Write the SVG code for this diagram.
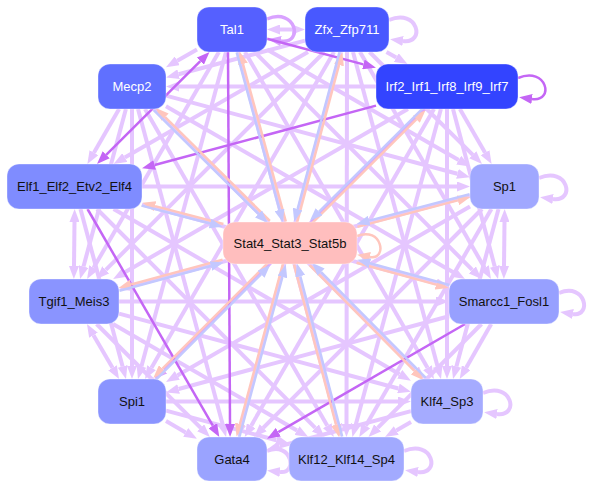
<svg xmlns="http://www.w3.org/2000/svg" width="591" height="489" viewBox="0 0 591 489">
<style>
.e{stroke:#e3c0ff;stroke-width:4;fill:none;opacity:0.9}
.d{stroke:#c466f5;stroke-width:2.5;fill:none}
.m{stroke:#d9a2ff;stroke-width:3.5;fill:none}
.p{stroke:#ffc6bd;stroke-width:2.5;fill:none}
.b{stroke:#c3c8ff;stroke-width:2.5;fill:none}
.n rect{rx:12;ry:12;stroke:rgba(255,255,255,0.35);stroke-width:1}
.n text{font-family:"Liberation Sans",Arial,sans-serif;font-size:13px;text-anchor:middle;dominant-baseline:central}
.w text{fill:#ffffff}
.k text{fill:#111111}
</style>
<defs>
<marker id="aL" markerUnits="userSpaceOnUse" viewBox="0 0 13 10" refX="0" refY="5" markerWidth="13" markerHeight="10" orient="auto-start-reverse"><path d="M0,0L13,5L0,10z" fill="#e3c0ff"/></marker>
<marker id="aD" markerUnits="userSpaceOnUse" viewBox="0 0 13 10" refX="0" refY="5" markerWidth="13" markerHeight="10" orient="auto-start-reverse"><path d="M0,0L13,5L0,10z" fill="#c466f5"/></marker>
<marker id="aM" markerUnits="userSpaceOnUse" viewBox="0 0 13 10" refX="0" refY="5" markerWidth="13" markerHeight="10" orient="auto-start-reverse"><path d="M0,0L13,5L0,10z" fill="#d9a2ff"/></marker>
<marker id="aP" markerUnits="userSpaceOnUse" viewBox="0 0 13 10" refX="0" refY="5" markerWidth="13" markerHeight="10" orient="auto-start-reverse"><path d="M0,0L13,5L0,10z" fill="#ffc6bd"/></marker>
<marker id="aB" markerUnits="userSpaceOnUse" viewBox="0 0 13 10" refX="0" refY="5" markerWidth="13" markerHeight="10" orient="auto-start-reverse"><path d="M0,0L13,5L0,10z" fill="#c3c8ff"/></marker>
</defs>
<rect width="591" height="489" fill="#ffffff"/>
<g id="edges">
<g class="e" marker-end="url(#aL)">
<path d="M280,29.5L292,29.5" marker-start="url(#aL)"/>
<path d="M197,49.5L177.3,60.7"/>
<path d="M267,49.6L458.7,160.1"/>
<path d="M218.9,52L93.6,267.8"/>
<path d="M254.5,52L472.3,269.8"/>
<path d="M226,52L141.4,366.4"/>
<path d="M245,52L427.5,367.7"/>
<path d="M238,52L337.2,424.4"/>
<path d="M386.5,52L396.2,57.6"/>
<path d="M305,40.6L178.6,74.2"/>
<path d="M308,52L124.8,157.5"/>
<path d="M369.5,52L472.8,154.8"/>
<path d="M324.4,52L105.8,269.8"/>
<path d="M360,52L484.5,267.7"/>
<path d="M334,52L151.5,367.7"/>
<path d="M353,52L437.6,366.4"/>
<path d="M341,52L241.3,424.4"/>
<path d="M347,52L346.5,424"/>
<path d="M376,86.5L179,86.5"/>
<path d="M459.9,109L485.1,152.7"/>
<path d="M407.9,109L124.4,272.5"/>
<path d="M453,109L494.7,266.4"/>
<path d="M447,109L447,366"/>
<path d="M434,109L251.2,425.7"/>
<path d="M440.9,109L355.8,424.4"/>
<path d="M119.1,109L93.9,152.7"/>
<path d="M166,95.6L457.4,173.8"/>
<path d="M125.9,109L83.5,266.5"/>
<path d="M166,106.2L453.7,272.5"/>
<path d="M132,109L132,366"/>
<path d="M154.5,109L415.3,369.8"/>
<path d="M138,109L222.7,424.4"/>
<path d="M145,109L327.3,425.7"/>
<path d="M142,186.5L457,186.5"/>
<path d="M74.5,222L74,266" marker-start="url(#aL)"/>
<path d="M142,204.6L436.4,283.4"/>
<path d="M80.5,209L122.6,366.4"/>
<path d="M113.6,209L399.7,374.2"/>
<path d="M97,209L315.3,427.8"/>
<path d="M470,195.7L131.6,286.1"/>
<path d="M504.5,222L504,266" marker-start="url(#aL)"/>
<path d="M470,206.4L177.3,375.4"/>
<path d="M498.5,209L456.4,366.4"/>
<path d="M482,209L263.2,427.8"/>
<path d="M491.4,209L365.8,425.8"/>
<path d="M119,301.5L436,301.5"/>
<path d="M93.5,335.2L112.5,367.8" marker-start="url(#aL)"/>
<path d="M119,313.6L398.4,388.5"/>
<path d="M96.6,324L200.7,427.8"/>
<path d="M113,324L297,430.5"/>
<path d="M449,316.3L178.6,389"/>
<path d="M491.2,324L466.2,367.7"/>
<path d="M481.5,324L377.7,427.8"/>
<path d="M166,401.5L398,401.5"/>
<path d="M166,421.1L185.7,432.4"/>
<path d="M166,410.6L276.4,440.2"/>
<path d="M411,411.1L279.6,446.2"/>
<path d="M411,422.1L396.3,430.5"/>
<path d="M389,20C418,8 426,44 403,41"/>
<path d="M539,178C568,166 576,202 553,199"/>
<path d="M559,293C586,282 592,317 573,314"/>
<path d="M483,393C512,381 520,417 497,414"/>
<path d="M404,451C433,439 441,475 418,472"/>
<path d="M267,451C292,441 298,474 280,472"/>
</g>
<g class="m" marker-end="url(#aM)">
<path d="M267,19C296,7 304,44 281,41"/>
<path d="M424.5,109L163.7,369.8"/>
</g>
<g class="d" marker-end="url(#aD)">
<path d="M267,38.8L363.4,64.4"/>
<path d="M200.3,61.2L106.2,154.8" marker-start="url(#aD)"/>
<path d="M228,52L230,424"/>
<path d="M376,105.6L154.6,165"/>
<path d="M87.5,209L212.8,425.7"/>
<path d="M465.1,324L278.3,432.2"/>
<path d="M518,78C547,66 555,102 532,99"/>
</g>
<g class="p" marker-end="url(#aP)">
<path d="M285.8,221.6L243,64.1"/>
<path d="M297.1,222.4L339,65"/>
<path d="M312.1,223.1L416.3,119.3"/>
<path d="M269.9,220.9L165.1,117.1"/>
<path d="M223.4,224L155,206.1"/>
<path d="M357.4,226.9L457.8,200.4"/>
<path d="M222.6,259.6L131.1,284.5"/>
<path d="M356.6,262.8L436.1,284.6"/>
<path d="M268,262.9L162.5,368.7"/>
<path d="M309.7,265.1L414.4,370.9"/>
<path d="M283,263.6L239.9,424"/>
<path d="M294,264.4L336,424.8"/>
<path d="M357,236C382,226 388,260 370,257"/>
</g>
<g class="b" marker-end="url(#aB)">
<path d="M236.7,52.4L279.5,209.9"/>
<path d="M339.6,51.6L297.6,209"/>
<path d="M423.3,107.9L319.1,211.7"/>
<path d="M153.7,110.1L258.5,213.9"/>
<path d="M141.6,205.6L210,223.5"/>
<path d="M469.6,194.2L369.2,220.6"/>
<path d="M119.4,290.8L210.9,266"/>
<path d="M449.4,285L369.9,263.2"/>
<path d="M155.5,380.1L261,274.3"/>
<path d="M425.8,377.9L321.1,272.1"/>
<path d="M239.3,437.4L282.4,277"/>
<path d="M342.2,436.6L300.3,276.2"/>
</g>
</g>
<g id="Tal1" class="n w"><rect x="197" y="7" width="70" height="45" fill="#5560ff"/><text x="232" y="29.5">Tal1</text></g>
<g id="Zfx_Zfp711" class="n w"><rect x="305" y="7" width="84" height="45" fill="#4858ff"/><text x="347" y="29.5">Zfx_Zfp711</text></g>
<g id="Irf2_Irf1_Irf8_Irf9_Irf7" class="n w"><rect x="376" y="64" width="142" height="45" fill="#3344ff"/><text x="447" y="86.5">Irf2_Irf1_Irf8_Irf9_Irf7</text></g>
<g id="Mecp2" class="n w"><rect x="98" y="64" width="68" height="45" fill="#6070ff"/><text x="132" y="86.5">Mecp2</text></g>
<g id="Elf1_Elf2_Etv2_Elf4" class="n k"><rect x="7" y="164" width="135" height="45" fill="#7f8cff"/><text x="74.5" y="186.5">Elf1_Elf2_Etv2_Elf4</text></g>
<g id="Sp1" class="n k"><rect x="470" y="164" width="69" height="45" fill="#a0a8ff"/><text x="504.5" y="186.5">Sp1</text></g>
<g id="Stat4_Stat3_Stat5b" class="n k"><rect x="223" y="222" width="134" height="42" fill="#ffbebe"/><text x="290" y="243">Stat4_Stat3_Stat5b</text></g>
<g id="Tgif1_Meis3" class="n k"><rect x="29" y="279" width="90" height="45" fill="#8a94ff"/><text x="74" y="301.5">Tgif1_Meis3</text></g>
<g id="Smarcc1_Fosl1" class="n k"><rect x="449" y="279" width="110" height="45" fill="#97a0ff"/><text x="504" y="301.5">Smarcc1_Fosl1</text></g>
<g id="Spi1" class="n k"><rect x="98" y="379" width="68" height="45" fill="#8a94ff"/><text x="132" y="401.5">Spi1</text></g>
<g id="Klf4_Sp3" class="n k"><rect x="411" y="379" width="72" height="45" fill="#a5abff"/><text x="447" y="401.5">Klf4_Sp3</text></g>
<g id="Gata4" class="n k"><rect x="197" y="437" width="70" height="44" fill="#9aa3ff"/><text x="232" y="459">Gata4</text></g>
<g id="Klf12_Klf14_Sp4" class="n k"><rect x="289" y="437" width="115" height="44" fill="#a2aaff"/><text x="346.5" y="459">Klf12_Klf14_Sp4</text></g>
</svg>
